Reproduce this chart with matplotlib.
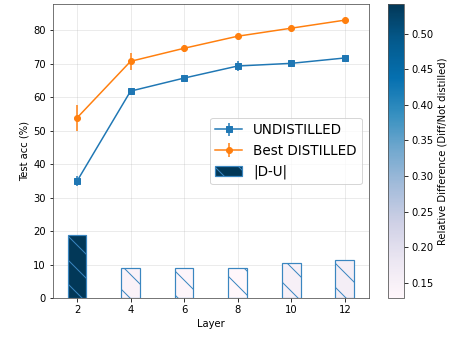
import numpy as np
import matplotlib
matplotlib.use("Agg")
import matplotlib.pyplot as plt
from matplotlib import cm, colors

layers = [2, 4, 6, 8, 10, 12]
undistilled = [34.9, 61.8, 65.7, 69.3, 70.1, 71.7]
undistilled_err = [1.5, 0.8, 0.8, 1.5, 1.0, 0.8]
distilled = [53.8, 70.7, 74.6, 78.2, 80.6, 83.0]
distilled_err = [4.0, 2.5, 1.0, 0.6, 0.6, 0.6]

diff = np.abs(np.array(distilled) - np.array(undistilled))
rel = diff / np.array(undistilled)

fig = plt.figure(figsize=(456 / 72, 340 / 72), dpi=72)
ax = fig.add_axes([0.116, 0.1235, 0.693, 0.8645])
cax = fig.add_axes([0.851, 0.1235, 0.035, 0.8645])

ax.errorbar(layers, undistilled, yerr=undistilled_err, marker='s', color='C0',
            markersize=6, label='UNDISTILLED')
ax.errorbar(layers, distilled, yerr=distilled_err, marker='o', color='C1',
            markersize=6, label='Best DISTILLED')

cmap = cm.PuBu
norm = colors.Normalize(vmin=rel.min(), vmax=rel.max())
ax.bar(layers, diff, width=0.7, color=cmap(norm(rel)), edgecolor='#3a86c0',
       hatch='\\', linewidth=1.2, label='|D-U|')

ax.set_xlim(1.1, 12.9)
ax.set_ylim(0, 87.8)
ax.set_xticks(layers)
ax.set_xlabel('Layer')
ax.set_ylabel('Test acc (%)')
ax.grid(True, alpha=0.3)
ax.set_axisbelow(True)
for s in ax.spines.values():
    s.set_color('#555555')
ax.legend(loc='center right', fontsize=13.5)

sm = cm.ScalarMappable(norm=norm, cmap=cmap)
cb = fig.colorbar(sm, cax=cax)
cb.set_label('Relative Difference (Diff/Not distilled)')
cb.outline.set_edgecolor('#555555')

fig.savefig('out.png', dpi=72)
